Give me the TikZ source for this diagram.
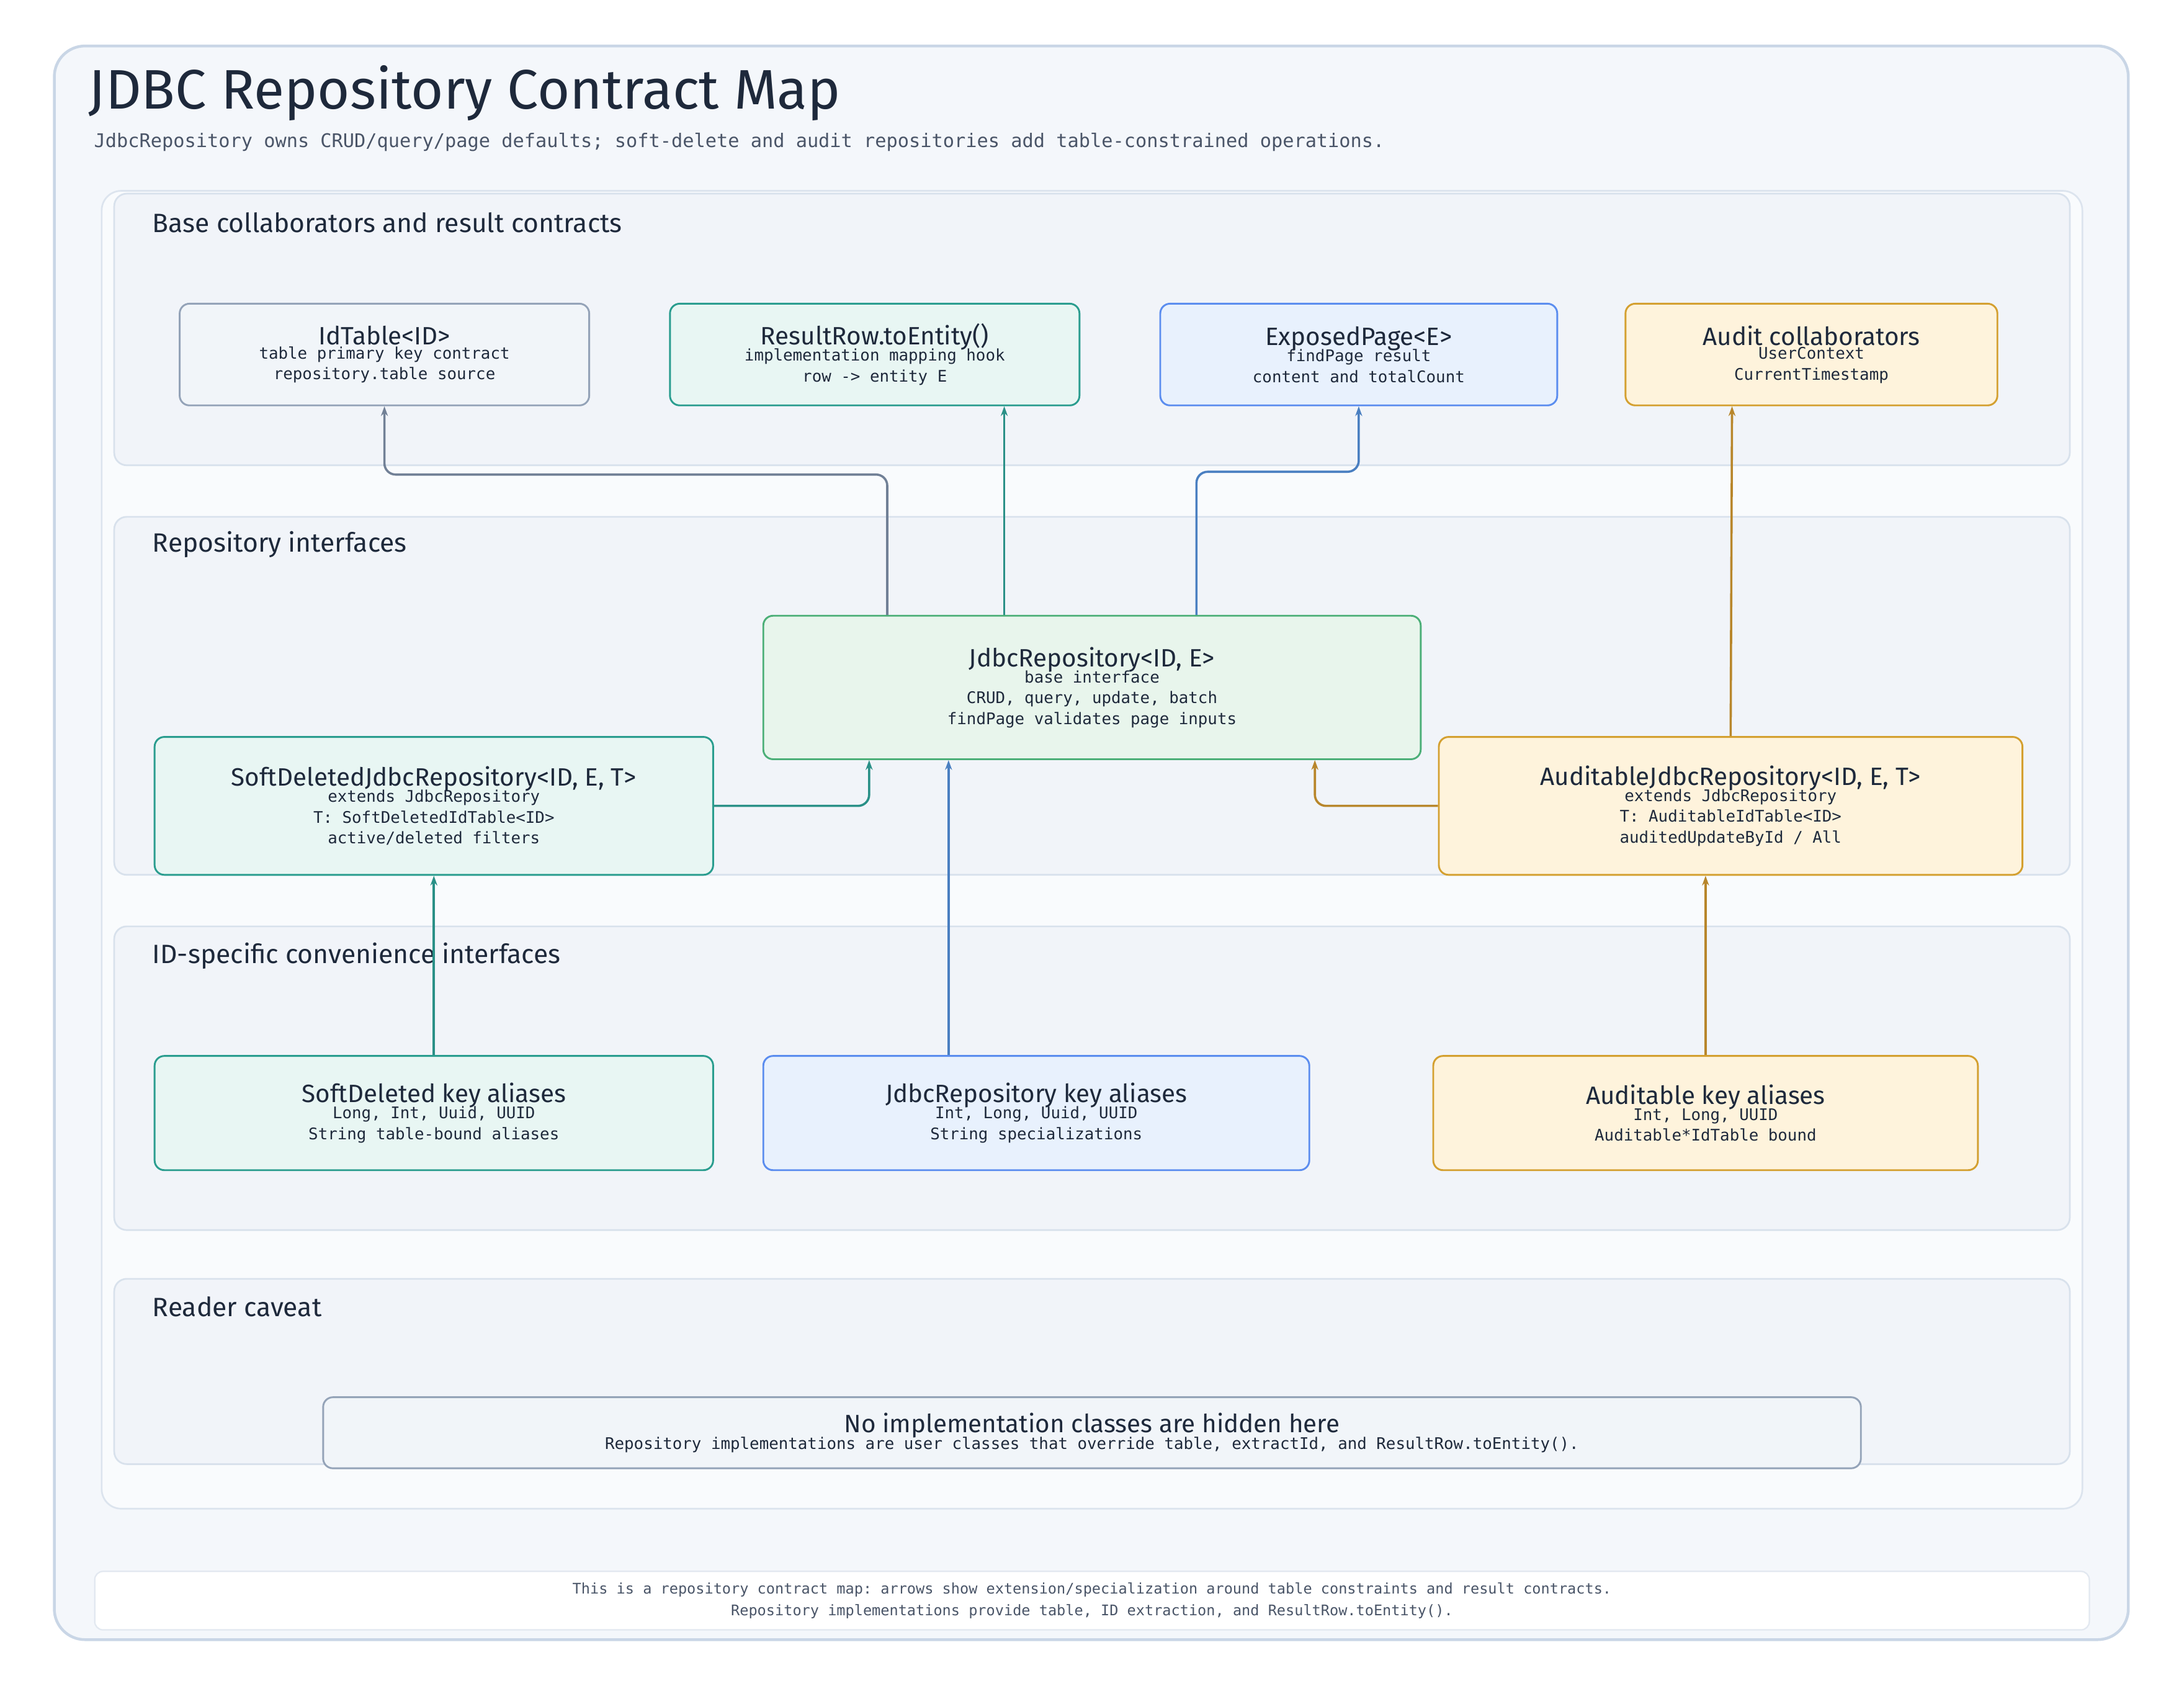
\documentclass[tikz,border=0pt]{standalone}
\usepackage{fontspec}
\setmainfont{Fira Sans}
\setmonofont{DejaVu Sans Mono}
\usetikzlibrary{arrows.meta,positioning,backgrounds}
\definecolor{ink}{HTML}{1E293B}
\definecolor{subink}{HTML}{4A5568}
\definecolor{grayB}{HTML}{94A3B8}\definecolor{grayF}{HTML}{F1F5F9}
\definecolor{tealB}{HTML}{2A9D8F}\definecolor{tealF}{HTML}{E8F6F3}
\definecolor{blueB}{HTML}{5B8DEF}\definecolor{blueF}{HTML}{E8F1FD}
\definecolor{ambB}{HTML}{D4A030}\definecolor{ambF}{HTML}{FEF3DC}
\definecolor{grnB}{HTML}{4CAF78}\definecolor{grnF}{HTML}{E8F5EC}
\definecolor{grayA}{HTML}{718096}\definecolor{blueA}{HTML}{4A7FC1}
\definecolor{ambA}{HTML}{B8862B}\definecolor{tealA}{HTML}{2A9087}
\definecolor{groupB}{HTML}{D8E1EC}\definecolor{groupF}{HTML}{F1F4F9}
\definecolor{frameB}{HTML}{C9D6E6}\definecolor{frameF}{HTML}{F4F7FB}
\definecolor{innerB}{HTML}{DCE4EE}\definecolor{innerF}{HTML}{F9FBFD}
\definecolor{footB}{HTML}{E2E8F0}
\newcommand{\cardtitle}{\fontsize{18}{21}\selectfont}
\newcommand{\cardbody}{\ttfamily\fontsize{11.5}{17}\selectfont}
\begin{document}
\begin{tikzpicture}[x=1pt,y=-1pt,
    card/.style={draw, line width=1.3pt, rounded corners=7pt, align=center, text=ink, inner sep=0pt},
    group/.style={draw=groupB, line width=1.2pt, fill=groupF, rounded corners=9pt},
    gtitle/.style={anchor=west, text=ink, font=\fontsize{19}{21}\selectfont},
    link/.style={line width=1.6pt, rounded corners=8pt, -{Stealth[length=7pt,width=5pt]}}]
\fill[white] (0,0) rectangle (1568,1210);
\draw[line width=2pt, draw=frameB, fill=frameF, rounded corners=22pt] (39,33) rectangle (1528,1177);
\draw[line width=1.2pt, draw=innerB, fill=innerF, rounded corners=14pt] (73,137) rectangle (1495,1083);
\node[anchor=west, text=ink, font=\fontsize{40}{44}\selectfont] (title) at (60,67) {JDBC Repository Contract Map};
\node[anchor=west, text=subink, font=\ttfamily\fontsize{13.5}{15}\selectfont] (subtitle) at (64,102) {JdbcRepository owns CRUD/query/page defaults; soft-delete and audit repositories add table-constrained operations.};
% groups
\draw[group] (82,139) rectangle (1486,334);
\node[gtitle] (g1) at (106,160) {Base collaborators and result contracts};
\draw[group] (82,371) rectangle (1486,628);
\node[gtitle] (g2) at (106,391) {Repository interfaces};
\draw[group] (82,665) rectangle (1486,883);
\node[gtitle] (g3) at (106,686) {ID-specific convenience interfaces};
\draw[group] (82,918) rectangle (1486,1051);
\node[gtitle] (g4) at (106,938) {Reader caveat};
% cards
\node[card, draw=grayB, fill=grayF, minimum width=294, minimum height=73] (idtable) at (276,254.5) {\cardtitle IdTable<ID>\\[-2pt]\cardbody table primary key contract\\[3pt]\cardbody repository.table source};
\node[card, draw=tealB, fill=tealF, minimum width=294, minimum height=73] (resultrow) at (628,254.5) {\cardtitle ResultRow.toEntity()\\[-2pt]\cardbody implementation mapping hook\\[3pt]\cardbody row -> entity E};
\node[card, draw=blueB, fill=blueF, minimum width=285, minimum height=73] (exposed) at (975.5,254.5) {\cardtitle ExposedPage<E>\\[-2pt]\cardbody findPage result\\[3pt]\cardbody content and totalCount};
\node[card, draw=ambB, fill=ambF, minimum width=267, minimum height=73] (audit) at (1300.5,254.5) {\cardtitle Audit collaborators\\[-2pt]\cardbody UserContext\\[3pt]\cardbody CurrentTimestamp};
\node[card, draw=grnB, fill=grnF, minimum width=472, minimum height=103] (jdbc) at (784,493.5) {\cardtitle JdbcRepository<ID, E>\\[-2pt]\cardbody base interface\\[3pt]\cardbody CRUD, query, update, batch\\[3pt]\cardbody findPage validates page inputs};
\node[card, draw=tealB, fill=tealF, minimum width=401, minimum height=99] (softdel) at (311.5,578.5) {\cardtitle SoftDeletedJdbcRepository<ID, E, T>\\[-2pt]\cardbody extends JdbcRepository\\[3pt]\cardbody T: SoftDeletedIdTable<ID>\\[3pt]\cardbody active/deleted filters};
\node[card, draw=ambB, fill=ambF, minimum width=419, minimum height=99] (auditable) at (1242.5,578.5) {\cardtitle AuditableJdbcRepository<ID, E, T>\\[-2pt]\cardbody extends JdbcRepository\\[3pt]\cardbody T: AuditableIdTable<ID>\\[3pt]\cardbody auditedUpdateById / All};
\node[card, draw=tealB, fill=tealF, minimum width=401, minimum height=82] (softkeys) at (311.5,799) {\cardtitle SoftDeleted key aliases\\[-2pt]\cardbody Long, Int, Uuid, UUID\\[3pt]\cardbody String table-bound aliases};
\node[card, draw=blueB, fill=blueF, minimum width=392, minimum height=82] (jdbckeys) at (744,799) {\cardtitle JdbcRepository key aliases\\[-2pt]\cardbody Int, Long, Uuid, UUID\\[3pt]\cardbody String specializations};
\node[card, draw=ambB, fill=ambF, minimum width=391, minimum height=82] (audkeys) at (1224.5,799) {\cardtitle Auditable key aliases\\[-2pt]\cardbody Int, Long, UUID\\[3pt]\cardbody Auditable*IdTable bound};
\node[card, draw=grayB, fill=grayF, minimum width=1104, minimum height=51] (caveat) at (784,1028.5) {\cardtitle No implementation classes are hidden here\\[-2pt]\cardbody Repository implementations are user classes that override table, extractId, and ResultRow.toEntity().};
\node[draw=footB, line width=1pt, fill=white, rounded corners=6pt, minimum width=1432, minimum height=42, align=center, text=subink, font=\ttfamily\fontsize{10.5}{16}\selectfont] (footer) at (784,1149) {This is a repository contract map: arrows show extension/specialization around table constraints and result contracts.\\Repository implementations provide table, ID extraction, and ResultRow.toEntity().};
% connectors
\draw[link, grayA] ([xshift=-147]jdbc.north) |- ([yshift=-49]idtable.south) -- (idtable.south);
\draw[link, tealA] ([xshift=-63]jdbc.north) -- ([xshift=93]resultrow.south);
\draw[link, blueA] ([xshift=75]jdbc.north) |- ([yshift=-47]exposed.south) -- (exposed.south);
\draw[link, ambA] (auditable.north) -- ([xshift=-57]audit.south);
\draw[link, tealA] (softdel.east) -| ([xshift=-160]jdbc.south);
\draw[link, ambA] (auditable.west) -| ([xshift=160]jdbc.south);
\draw[link, blueA] ([xshift=-63]jdbckeys.north) -- ([xshift=-103]jdbc.south);
\draw[link, tealA] (softkeys.north) -- (softdel.south);
\draw[link, ambA] (audkeys.north) -- (audkeys.north |- auditable.south);
\end{tikzpicture}
\end{document}
